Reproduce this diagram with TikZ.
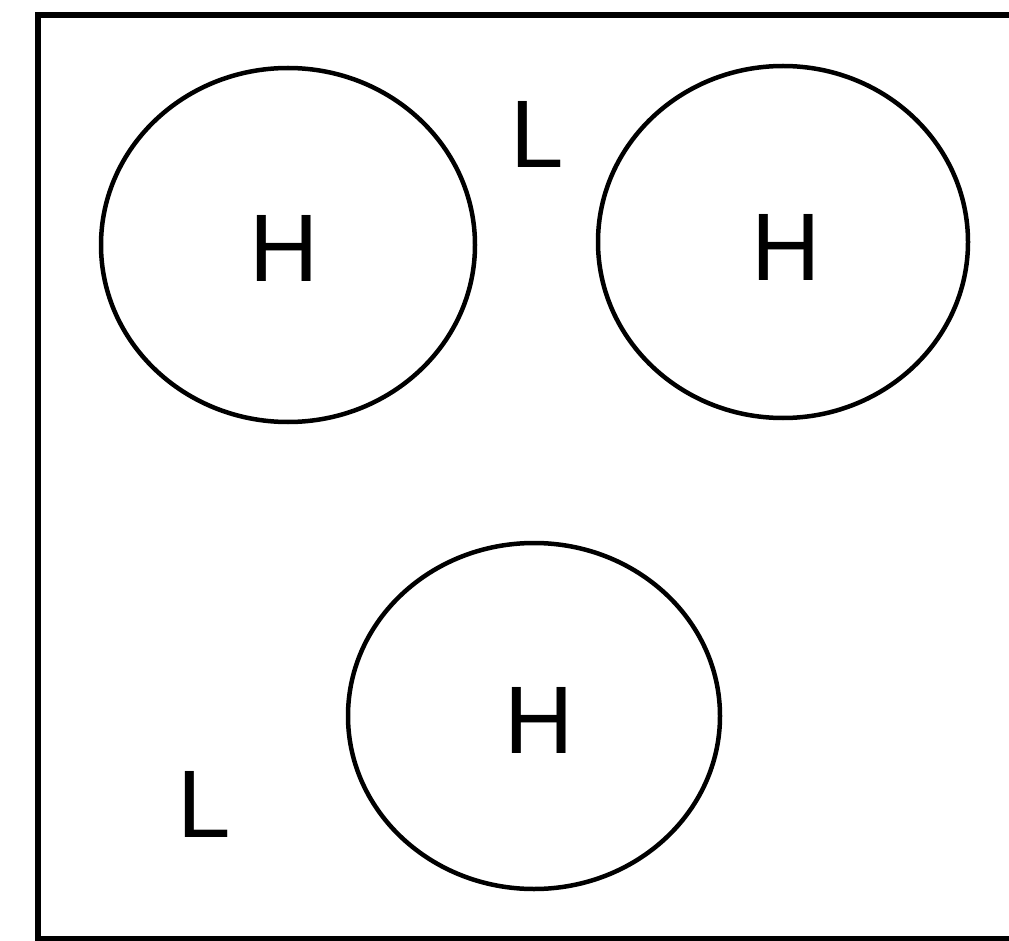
\documentclass[tikz,border=0pt]{standalone}
\usepackage{fontspec}
\setmainfont{Liberation Sans}
\begin{document}
\begin{tikzpicture}[x=1pt,y=-1pt,
  region/.style={draw=black,line width=4.5pt},
  lbl/.style={inner sep=0pt,font=\fontsize{96}{96}\selectfont}]
\useasboundingbox (0,0) rectangle (1009,941);
\begin{scope}
\clip (0,0) rectangle (1009,941);
\draw[line width=5.5pt] (1030,15) -- (38,15) -- (38,939) -- (1030,939);
\end{scope}
\draw[region] (288,245) ellipse [x radius=187, y radius=177];
\draw[region] (783,242) ellipse [x radius=185, y radius=176];
\draw[region] (534,716) ellipse [x radius=186, y radius=173];
\node[lbl] (h1) at (284,248) {H};
\node[lbl] (h2) at (786,247) {H};
\node[lbl] (h3) at (539,720) {H};
\node[lbl] (l1) at (537,134) {L};
\node[lbl] (l2) at (204,804) {L};
\end{tikzpicture}
\end{document}
